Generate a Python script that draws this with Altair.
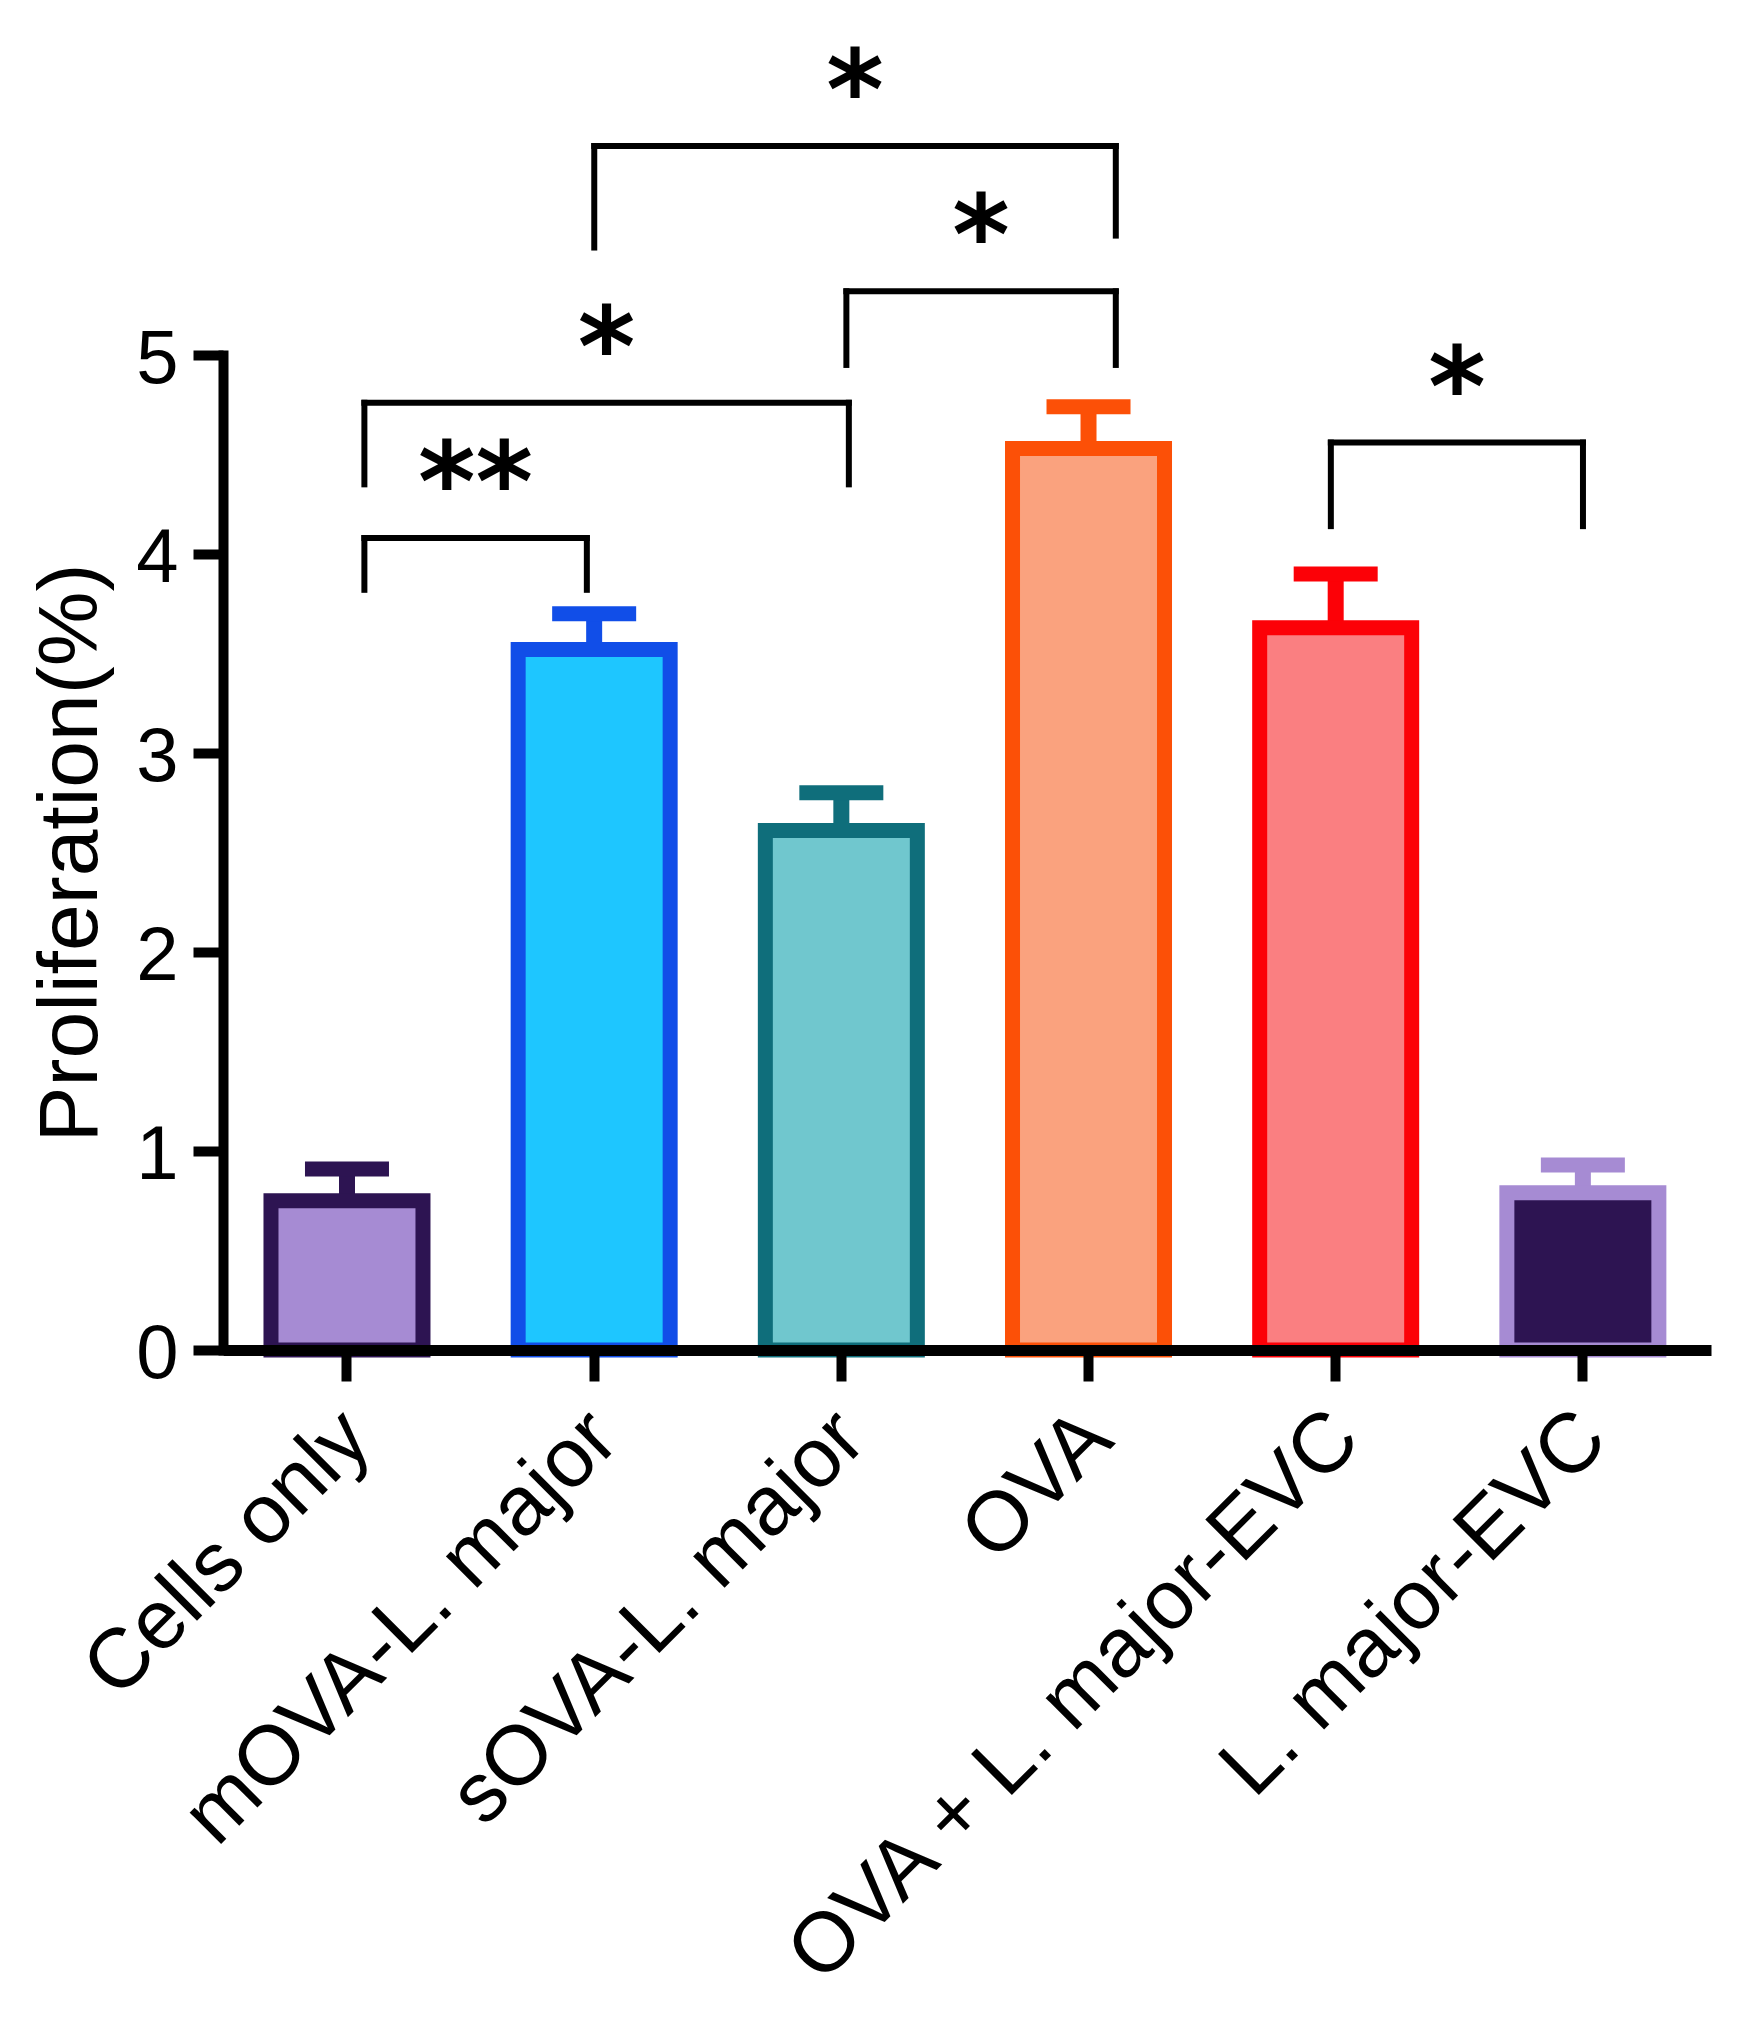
import altair as alt
import pandas as pd

# Groups, means and SEM (% proliferation)
groups = ["Cells only", "mOVA-L. major", "sOVA-L. major", "OVA",
          "OVA + L. major-EVC", "L. major-EVC"]
means = [0.75, 3.52, 2.61, 4.53, 3.63, 0.79]
sems = [0.16, 0.18, 0.19, 0.21, 0.27, 0.14]
fills = ["#A68BD3", "#1EC6FF", "#70C7CE", "#FAA27E", "#FA7F81", "#2D1452"]
edges = ["#2D1452", "#114EE8", "#0F6E7B", "#FC5007", "#FC0107", "#A68BD3"]

# Significance brackets: ends given as group positions (0 = first group),
# heights in % proliferation
br_left = [0.07, 0.07, 2.02, 1.00, 3.98]
br_right = [0.97, 2.03, 3.11, 3.11, 5.00]
br_top = [4.08, 4.76, 5.32, 6.05, 4.56]
br_leg_left = [3.82, 4.35, 4.95, 5.54, 4.14]
br_leg_right = [3.82, 4.35, 4.95, 5.60, 4.14]
br_label = ["**", "*", "*", "*", "*"]

FONT = "Liberation Sans"

bars_df = pd.DataFrame({
    "group": groups,
    "mean": means,
    "upper": [m + s for m, s in zip(means, sems)],
})
br_df = pd.DataFrame({
    "left": br_left,
    "right": br_right,
    "mid": [(a + b) / 2 for a, b in zip(br_left, br_right)],
    "top": br_top,
    "leg_left": br_leg_left,
    "leg_right": br_leg_right,
    "label": br_label,
})

y_scale = alt.Scale(domain=[0, 5], nice=False, zero=True)
x_band = alt.Scale(domain=groups, paddingInner=0.4, paddingOuter=0.21, align=0.48)

x_axis = alt.Axis(
    title=None, labelAngle=-45, labelAlign="right", labelBaseline="middle",
    labelFont=FONT, labelFontSize=84, labelColor="black", labelPadding=44,
    labelOffset=10, labelLimit=2000, labelOverlap=False,
    tickSize=31, tickWidth=10, tickColor="black",
    domainWidth=11, domainColor="black", zindex=1,
)
y_axis = alt.Axis(
    title="Proliferation(%)", values=[0, 1, 2, 3, 4, 5], format="d", grid=False,
    labelFont=FONT, labelFontSize=76, labelColor="black", labelPadding=15,
    labelOffset=4,
    tickSize=30, tickWidth=10, tickColor="black",
    domainWidth=10, domainColor="black", domainCap="square", zindex=1,
    titleFont=FONT, titleFontSize=84, titleFontWeight="normal", titleColor="black",
    titleAngle=-90, titleAlign="center", titleBaseline="alphabetic",
    titleX=-127, titleY=497.5,
)

base = alt.Chart(bars_df)

err_stem = base.mark_rule(strokeWidth=16).encode(
    x=alt.X("group:N", scale=x_band, axis=x_axis, sort=groups),
    y=alt.Y("mean:Q", scale=y_scale, axis=y_axis),
    y2="upper:Q",
    color=alt.Color("group:N", scale=alt.Scale(domain=groups, range=edges), legend=None),
)
err_cap = base.mark_tick(thickness=15, size=84, opacity=1).encode(
    x=alt.X("group:N", scale=x_band, sort=groups),
    y=alt.Y("upper:Q", scale=y_scale),
    color=alt.Color("group:N", scale=alt.Scale(domain=groups, range=edges), legend=None),
)
bars = base.mark_bar(size=152, strokeWidth=15, strokeJoin="miter", opacity=1).encode(
    x=alt.X("group:N", scale=x_band, sort=groups),
    y=alt.Y("mean:Q", scale=y_scale),
    fill=alt.Fill("group:N", scale=alt.Scale(domain=groups, range=fills), legend=None),
    stroke=alt.Stroke("group:N", scale=alt.Scale(domain=groups, range=edges), legend=None),
)

data_layer = alt.layer(err_stem, err_cap, bars)

# Annotation layer on a continuous copy of the group axis
x_pos = alt.Scale(domain=[-0.502, 5.518], nice=False, zero=False)
ann = alt.Chart(br_df)
line_kw = dict(strokeWidth=6, strokeCap="square", color="black")

br_h = ann.mark_rule(**line_kw).encode(
    x=alt.X("left:Q", scale=x_pos, axis=None),
    x2="right:Q",
    y=alt.Y("top:Q", scale=y_scale, axis=None),
)
br_l = ann.mark_rule(**line_kw).encode(
    x=alt.X("left:Q", scale=x_pos, axis=None),
    y=alt.Y("top:Q", scale=y_scale, axis=None),
    y2="leg_left:Q",
)
br_r = ann.mark_rule(**line_kw).encode(
    x=alt.X("right:Q", scale=x_pos, axis=None),
    y=alt.Y("top:Q", scale=y_scale, axis=None),
    y2="leg_right:Q",
)
br_txt = ann.mark_text(font="DejaVu Sans", fontSize=110, fontWeight="bold",
                       baseline="alphabetic", align="center", dy=-17,
                       color="black").encode(
    x=alt.X("mid:Q", scale=x_pos, axis=None),
    y=alt.Y("top:Q", scale=y_scale, axis=None),
    text="label:N",
)

ann_layer = alt.layer(br_h, br_l, br_r, br_txt)

chart = alt.layer(data_layer, ann_layer).resolve_scale(
    x="independent", y="independent"
).properties(
    width=1488, height=995,
    autosize=alt.AutoSizeParams(type="none"),
    padding={"left": 223, "top": 355, "right": 44, "bottom": 680},
    background="white",
).configure_view(stroke=None)

chart.save("out.html", embed_options={"renderer": "svg", "actions": False})
